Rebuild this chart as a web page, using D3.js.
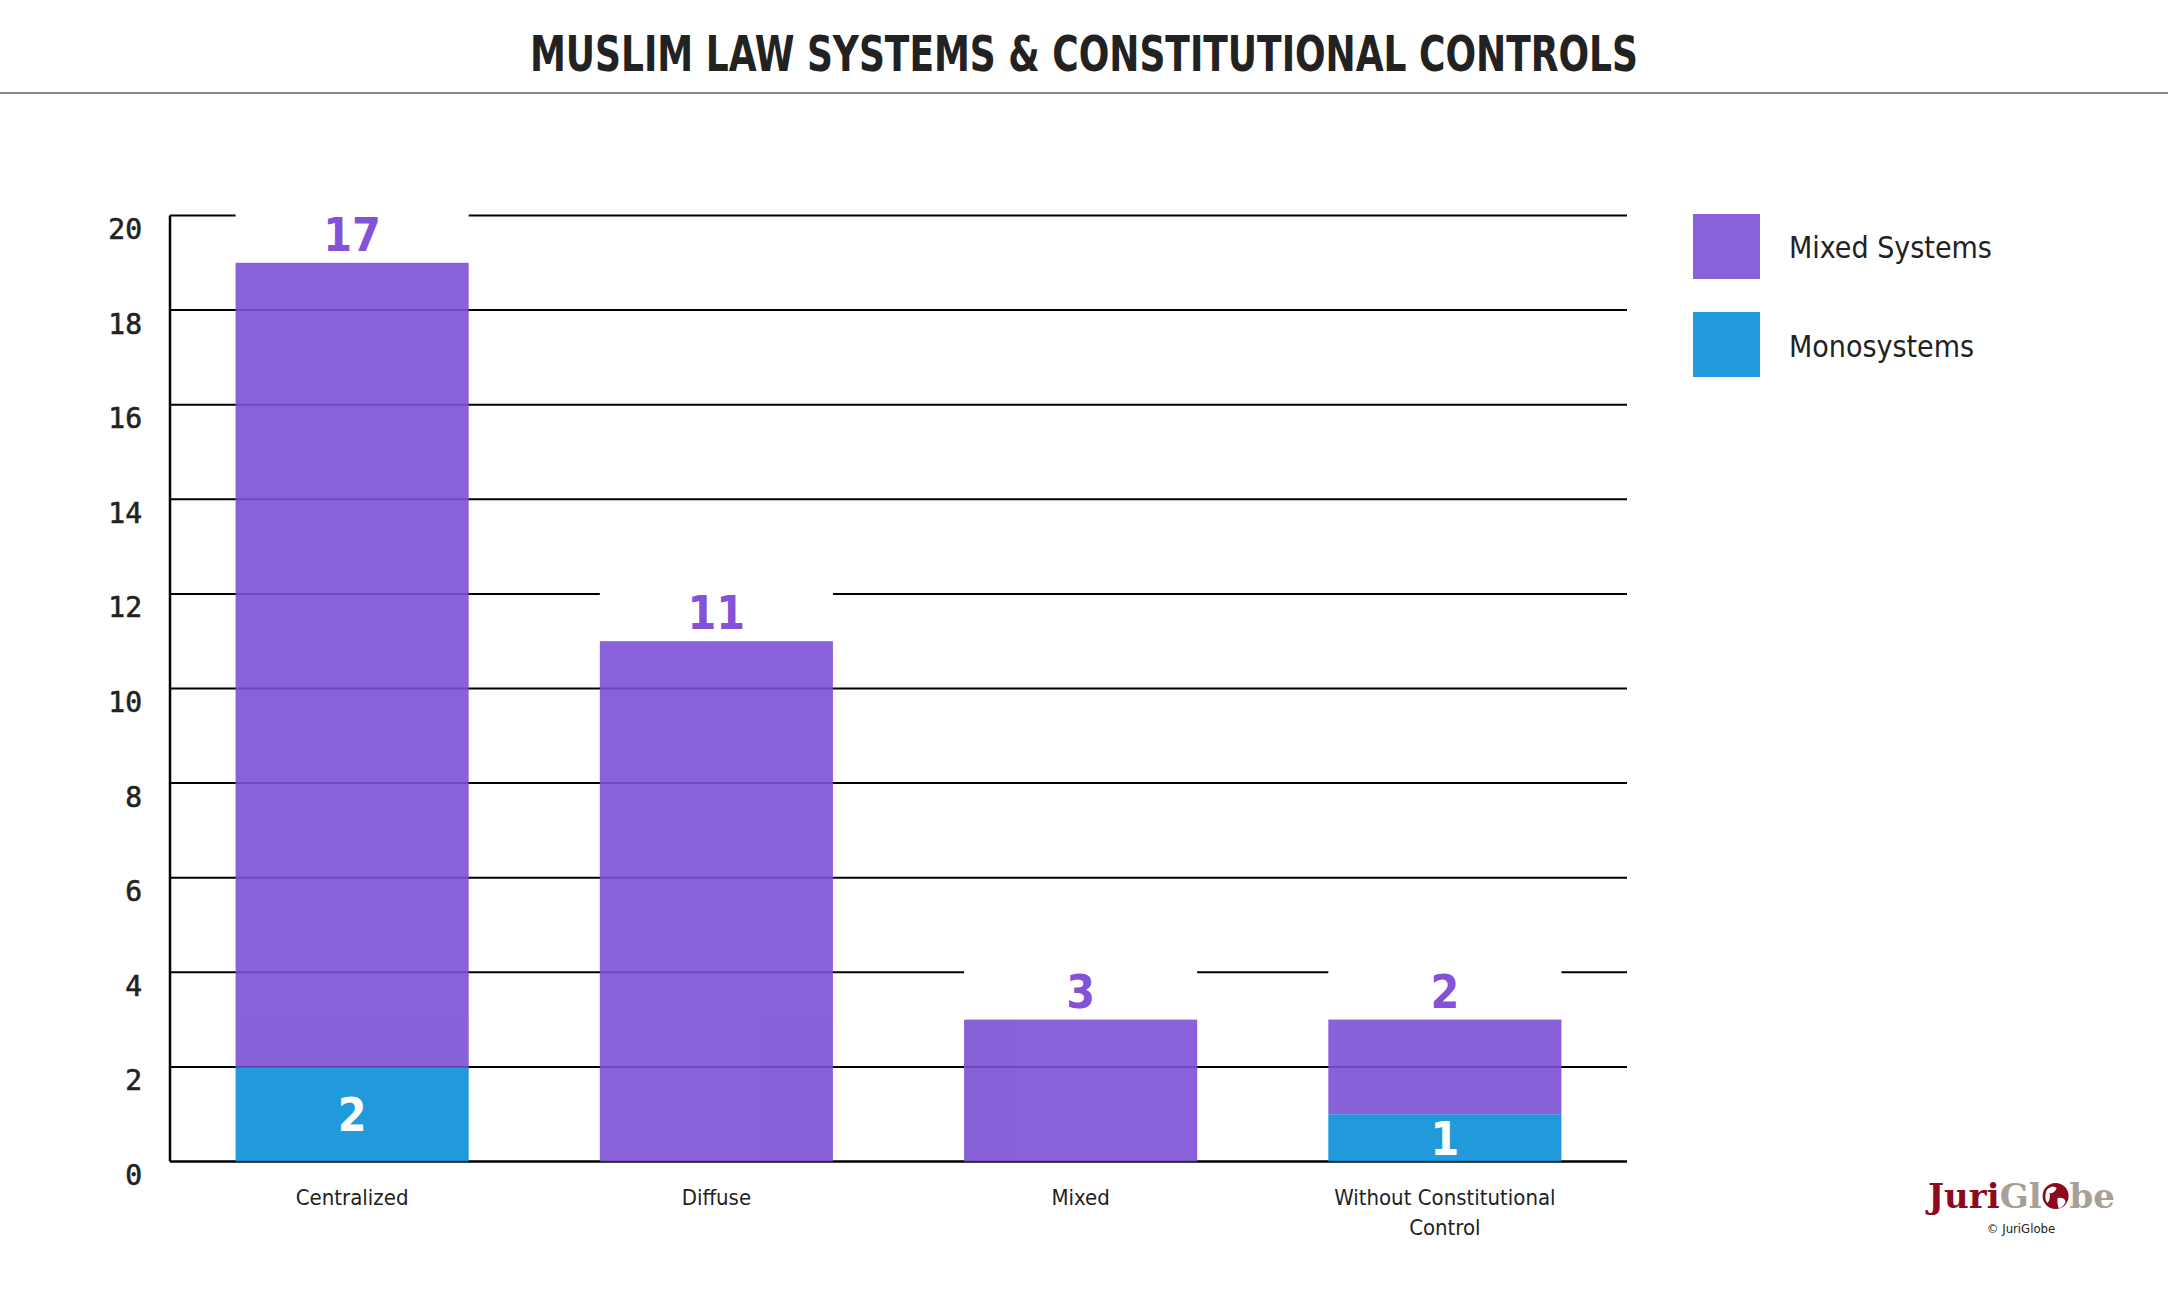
<!DOCTYPE html>
<html>
<head>
<meta charset="utf-8">
<script src="https://cdn.jsdelivr.net/npm/d3@7"></script>
<style>
  body { margin: 0; background: #fff; }
  svg { display: block; }
</style>
</head>
<body>
<svg></svg>
<script>
const categories = ['Centralized', 'Diffuse', 'Mixed', 'Without Constitutional Control']
const monoValues = [2, 0, 0, 1]
const mixedValues = [17, 11, 3, 2]
const yTicks = [0, 2, 4, 6, 8, 10, 12, 14, 16, 18, 20]
const seriesNames = ['Mixed Systems', 'Monosystems']
const seriesColors = ['#7c50d5', '#0a90d8']

const W = 2168, H = 1301
const svg = d3.select('svg').attr('width', W).attr('height', H)

const narrow = '"Liberation Sans Narrow", "DejaVu Sans Condensed", sans-serif'

// title + rule under it
svg.append('text')
  .attr('x', W / 2).attr('y', 71)
  .attr('text-anchor', 'middle')
  .attr('textLength', 1108).attr('lengthAdjust', 'spacingAndGlyphs')
  .style('font-family', '"DejaVu Sans Condensed", sans-serif')
  .style('font-weight', 'bold').style('font-size', '50px').style('fill', '#222')
  .text('MUSLIM LAW SYSTEMS & CONSTITUTIONAL CONTROLS')

svg.append('line')
  .attr('x1', 0).attr('x2', W).attr('y1', 93).attr('y2', 93)
  .style('stroke', '#888').style('stroke-width', 2)

const x = d3.scaleBand()
  .domain(categories)
  .range([170, 1627])
  .paddingInner(0.36).paddingOuter(0.18)

const y = d3.scaleLinear()
  .domain([0, 20])
  .range([1161.5, 215.5])

const plot = svg.append('g')

// gridlines
plot.selectAll('line.grid')
  .data(yTicks.filter(t => t > 0))
  .enter()
  .append('line')
  .attr('class', 'grid')
  .attr('x1', 170).attr('x2', 1627)
  .attr('y1', d => y(d)).attr('y2', d => y(d))
  .style('stroke', '#000').style('stroke-width', 2)

// axis lines
plot.append('line')
  .attr('x1', 170).attr('x2', 1627).attr('y1', y(0)).attr('y2', y(0))
  .style('stroke', '#000').style('stroke-width', 2.5)
plot.append('line')
  .attr('x1', 170).attr('x2', 170).attr('y1', y(20)).attr('y2', y(0))
  .style('stroke', '#000').style('stroke-width', 2.5)

// y tick labels sit a little below their lines
plot.selectAll('text.ytick')
  .data(yTicks)
  .enter()
  .append('text')
  .attr('class', 'ytick')
  .attr('x', 142).attr('y', d => y(d) + 14)
  .attr('text-anchor', 'end').attr('dominant-baseline', 'central')
  .style('font-family', '"DejaVu Sans Mono", monospace')
  .style('font-size', '28px').style('fill', '#222')
  .style('stroke', '#222').style('stroke-width', 0.6)
  .text(d => d)

const stacked = categories.map((c, i) => ({
  cat: c, mono: monoValues[i], mixed: mixedValues[i], total: monoValues[i] + mixedValues[i]
}))

// bars
const bars = plot.append('g').style('opacity', 0.9)
bars.selectAll('rect.mono')
  .data(stacked.filter(d => d.mono > 0))
  .enter()
  .append('rect')
  .attr('x', d => x(d.cat)).attr('width', x.bandwidth())
  .attr('y', d => y(d.mono)).attr('height', d => y(0) - y(d.mono))
  .style('fill', seriesColors[1])
bars.selectAll('rect.mixed')
  .data(stacked)
  .enter()
  .append('rect')
  .attr('x', d => x(d.cat)).attr('width', x.bandwidth())
  .attr('y', d => y(d.total)).attr('height', d => y(d.mono) - y(d.total))
  .style('fill', seriesColors[0])

// white boxes behind the top labels hide the gridlines
plot.selectAll('rect.labelbg')
  .data(stacked)
  .enter()
  .append('rect')
  .attr('x', d => x(d.cat)).attr('width', x.bandwidth())
  .attr('y', d => y(d.total) - 56).attr('height', 55)
  .style('fill', '#fff')

plot.selectAll('text.top')
  .data(stacked)
  .enter()
  .append('text')
  .attr('x', d => x(d.cat) + x.bandwidth() / 2)
  .attr('y', d => y(d.total) - 28)
  .attr('text-anchor', 'middle').attr('dominant-baseline', 'central')
  .style('font-family', '"DejaVu Sans Condensed", sans-serif')
  .style('font-weight', 'bold').style('font-size', '46px').style('fill', '#8452d8')
  .text(d => d.mixed)

plot.selectAll('text.mono')
  .data(stacked.filter(d => d.mono > 0))
  .enter()
  .append('text')
  .attr('x', d => x(d.cat) + x.bandwidth() / 2)
  .attr('y', d => (y(0) + y(d.mono)) / 2 + 1)
  .attr('text-anchor', 'middle').attr('dominant-baseline', 'central')
  .style('font-family', '"DejaVu Sans Condensed", sans-serif')
  .style('font-weight', 'bold').style('font-size', '46px').style('fill', '#fff')
  .text(d => d.mono)

// x labels, wrapped to the band
const xl = plot.selectAll('text.xlab')
  .data(categories)
  .enter()
  .append('text')
  .attr('x', d => x(d) + x.bandwidth() / 2)
  .attr('y', 1205)
  .attr('text-anchor', 'middle')
  .style('font-family', narrow)
  .style('font-size', '22px').style('fill', '#222')

xl.each(function (d) {
  const t = d3.select(this)
  const cx = t.attr('x')
  const words = d.split(' ')
  let line = []
  let ts = t.append('tspan').attr('x', cx)
  words.forEach(w => {
    line.push(w)
    ts.text(line.join(' '))
    if (ts.node().getComputedTextLength() > 250 && line.length > 1) {
      line.pop()
      ts.text(line.join(' '))
      line = [w]
      ts = t.append('tspan').attr('x', cx).attr('dy', 30).text(w)
    }
  })
})

// legend
const legend = svg.append('g')
seriesNames.forEach((s, i) => {
  legend.append('rect')
    .attr('x', 1693).attr('y', 214 + i * 98)
    .attr('width', 67).attr('height', 65)
    .style('fill', seriesColors[i]).style('opacity', 0.9)
  legend.append('text')
    .attr('x', 1789).attr('y', 247 + i * 99)
    .attr('dominant-baseline', 'central')
    .style('font-family', narrow)
    .style('font-size', '30px').style('fill', '#222')
    .text(s)
})

// JuriGlobe mark, pieces chained by their measured widths
const logo = svg.append('g')
const logoFont = t => t
  .style('font-family', '"DejaVu Serif", serif')
  .style('font-weight', 'bold').style('font-size', '34px')
let lx = 1928
const juri = logoFont(logo.append('text').attr('x', lx).attr('y', 1208))
  .style('fill', '#8b0a1e').text('Juri')
lx += juri.node().getComputedTextLength()
const gl = logoFont(logo.append('text').attr('x', lx).attr('y', 1208))
  .style('fill', '#a89f96').text('Gl')
lx += gl.node().getComputedTextLength() + 1
const gr = 13
const gx = lx + gr, gy = 1196
logo.append('circle').attr('cx', gx).attr('cy', gy).attr('r', gr).style('fill', '#8b0a1e')
logo.append('path')
  .attr('d', `M${gx - 9},${gy - 6} q6,-6 10,-2 q-2,6 -7,5 q1,6 -2,10 q-4,-4 -1,-13 Z M${gx + 2},${gy + 2} q7,-1 8,4 q-3,6 -7,6 q-2,-5 -1,-10 Z`)
  .style('fill', '#fff')
lx = gx + gr + 1
logoFont(logo.append('text').attr('x', lx).attr('y', 1208))
  .style('fill', '#a89f96').text('be')
logo.append('text')
  .attr('x', 2021).attr('y', 1233)
  .attr('text-anchor', 'middle')
  .style('font-family', narrow)
  .style('font-size', '13px').style('fill', '#222')
  .text('© JuriGlobe')
</script>
</body>
</html>
